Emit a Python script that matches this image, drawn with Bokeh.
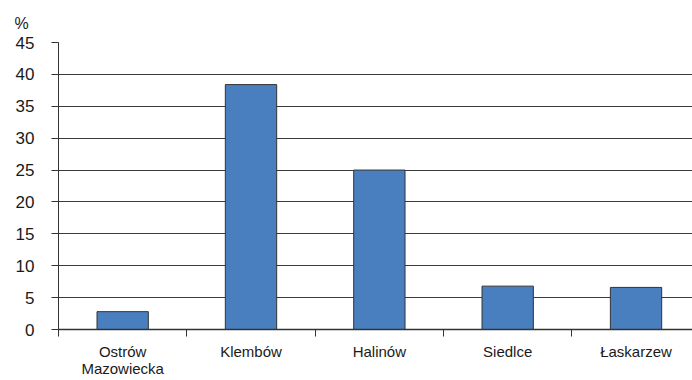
from bokeh.plotting import figure
from bokeh.models import Range1d, FixedTicker, ColumnDataSource, Title
from bokeh.embed import file_html
from bokeh.resources import INLINE

# Share of respondents by locality (%)
towns = ["Ostrów\nMazowiecka", "Klembów", "Halinów", "Siedlce", "Łaskarzew"]
shares = [2.8, 38.4, 25.0, 6.8, 6.6]
y_ticks = [0, 5, 10, 15, 20, 25, 30, 35, 40, 45]

centers = [i + 0.5 for i in range(len(towns))]
src = ColumnDataSource(dict(x=centers, top=shares))

FONT = "Liberation Sans"
TXT = "#1a1a1a"

p = figure(width=692, height=380, output_backend="svg", toolbar_location=None,
           x_range=Range1d(0, 4.94), y_range=Range1d(0, 45),
           min_border_left=58, min_border_right=0, min_border_top=42,
           min_border_bottom=50)
p.outline_line_color = None
p.background_fill_color = "white"
p.border_fill_color = "white"

p.vbar(x="x", top="top", width=0.4, bottom=0, source=src,
       fill_color="#4a7fbf", line_color="#333333", line_width=1)

# y axis
p.yaxis.ticker = FixedTicker(ticks=y_ticks)
p.yaxis.axis_line_color = "#333333"
p.yaxis.major_tick_line_color = "#333333"
p.yaxis.major_tick_out = 7
p.yaxis.major_tick_in = 0
p.yaxis.minor_tick_line_color = None
p.yaxis.major_label_text_font = FONT
p.yaxis.major_label_text_font_size = "17px"
p.yaxis.major_label_text_color = TXT
p.yaxis.major_label_standoff = 17

# x axis: names at category centres, ticks at category boundaries
p.xaxis.ticker = FixedTicker(ticks=centers, minor_ticks=[0, 1, 2, 3, 4, 5])
p.xaxis.major_label_overrides = {c: t for c, t in zip(centers, towns)}
p.xaxis.major_tick_line_color = None
p.xaxis.major_tick_out = 0
p.xaxis.major_tick_in = 0
p.xaxis.minor_tick_line_color = "#333333"
p.xaxis.minor_tick_out = 7
p.xaxis.minor_tick_in = 0
p.xaxis.axis_line_color = "#333333"
p.xaxis.axis_line_width = 1.5
p.xaxis.major_label_text_font = FONT
p.xaxis.major_label_text_font_size = "15px"
p.xaxis.major_label_text_color = TXT
p.xaxis.major_label_text_line_height = 1.05
p.xaxis.major_label_standoff = 6

p.xgrid.grid_line_color = None
p.ygrid.ticker = FixedTicker(ticks=y_ticks)
p.ygrid.grid_line_color = "#3a3a3a"
p.ygrid.grid_line_width = 1

p.title = Title(text="%", align="left", offset=-44, text_font=FONT,
                text_font_size="16px", text_font_style="normal",
                text_color=TXT, standoff=22)

open("out.html", "w").write(file_html(p, INLINE))
